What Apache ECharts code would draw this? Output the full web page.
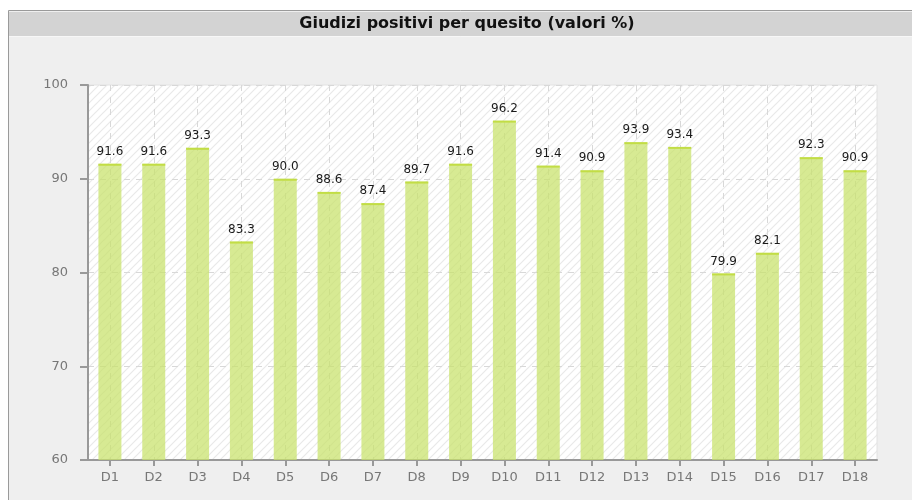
<!DOCTYPE html>
<html>
<head>
<meta charset="utf-8">
<script src="https://cdn.jsdelivr.net/npm/echarts@6/dist/echarts.min.js"></script>
<style>
html,body{margin:0;padding:0;background:#ffffff;}
#c{width:912px;height:500px;}
</style>
</head>
<body>
<div id="c"></div>
<script>
const titleText = "Giudizi positivi per quesito (valori %)";
const categories = ["D1","D2","D3","D4","D5","D6","D7","D8","D9","D10","D11","D12","D13","D14","D15","D16","D17","D18"];
const values = [91.6,91.6,93.3,83.3,90.0,88.6,87.4,89.7,91.6,96.2,91.4,90.9,93.9,93.4,79.9,82.1,92.3,90.9];
const yMin = 60, yMax = 100, yStep = 10;

function hatch(){
  const s = 8;
  const cv = document.createElement('canvas');
  cv.width = s; cv.height = s;
  const ctx = cv.getContext('2d');
  ctx.fillStyle = '#ffffff';
  ctx.fillRect(0,0,s,s);
  ctx.strokeStyle = '#e9e9e9';
  ctx.lineWidth = 1.2;
  ctx.beginPath();
  ctx.moveTo(-1, s+1); ctx.lineTo(s+1, -1);
  ctx.moveTo(-1-s, s+1); ctx.lineTo(1, -1);
  ctx.moveTo(s-1, s+1); ctx.lineTo(2*s+1, -1);
  ctx.stroke();
  return cv;
}

const chart = echarts.init(document.getElementById('c'), null, {renderer:'canvas'});
const font = '"DejaVu Sans", Verdana, sans-serif';
chart.setOption({
  animation:false,
  backgroundColor:'#ffffff',
  graphic:[
    {type:'rect', z:-10, shape:{x:8.5,y:10.5,width:912,height:500}, style:{fill:'#efefef', stroke:'#9a9a9a', lineWidth:1}},
    {type:'rect', z:-9, shape:{x:9,y:12,width:903,height:24}, style:{fill:'#d3d3d3'}},
    {type:'line', z:-9, shape:{x1:9,y1:36.5,x2:912,y2:36.5}, style:{stroke:'#f7f7f7', lineWidth:1}},
    {type:'text', z:10, x:467, y:24, style:{text:titleText, font:'bold 16px '+font, fill:'#111', textAlign:'center', textVerticalAlign:'middle'}}
  ],
  grid:{left:88, right:35, top:85, bottom:40, show:true, backgroundColor:{image:hatch(), repeat:'repeat'}, borderColor:'#e2e2e2', borderWidth:1},
  xAxis:{
    type:'category', data:categories, boundaryGap:true,
    axisLine:{lineStyle:{color:'#999', width:2}},
    axisTick:{show:true, alignWithLabel:true, length:6, lineStyle:{color:'#999', width:2}},
    axisLabel:{color:'#777', fontFamily:font, fontSize:13, margin:11},
    splitLine:{show:true, alignWithLabel:true, lineStyle:{color:'#d8d8d8', type:[6,6], width:1}}
  },
  yAxis:{
    type:'value', min:yMin, max:yMax, interval:yStep,
    axisLine:{show:true, lineStyle:{color:'#999', width:2}},
    axisTick:{show:true, length:8, lineStyle:{color:'#999', width:2}},
    axisLabel:{color:'#777', fontFamily:font, fontSize:13, margin:20},
    splitLine:{show:true, lineStyle:{color:'#d8d8d8', type:[6,6], width:1}}
  },
  series:[
    {type:'bar', data:values, barWidth:23, z:1,
     itemStyle:{color:'rgba(200,226,105,0.72)'},
     label:{show:true, position:'top', distance:6, color:'#1a1a1a', fontFamily:font, fontSize:12, formatter:p=>p.value.toFixed(1)}},
    {type:'scatter', data:values, symbol:'rect', symbolSize:[23,2], symbolOffset:[0,1], z:3,
     itemStyle:{color:'#c2dd45', opacity:1}, silent:true}
  ]
});
</script>
</body>
</html>
